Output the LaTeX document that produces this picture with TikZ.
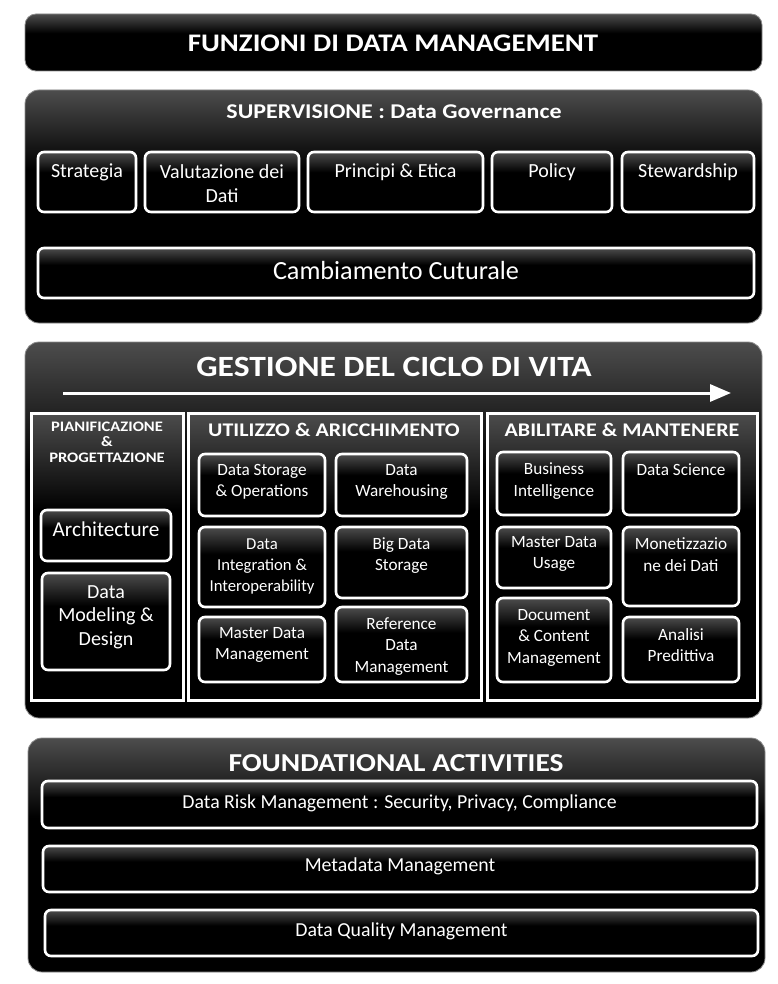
\documentclass[tikz,border=0pt]{standalone}
\usepackage{fontspec}
\setmainfont{Carlito}
\newfontfamily\ttlfont[FakeStretch=1.14]{Carlito}
\usetikzlibrary{arrows.meta}
\pgfdeclareverticalshading{glossy}{100bp}{color(0bp)=(black); color(25bp)=(black); color(58bp)=(black); color(75bp)=(black!70); color(100bp)=(black!70)}
\newcommand\fs[2]{\fontsize{#1}{#2}\selectfont}
% \bx{name}{style}{x1}{y1}{x2}{y2}
\newcommand\bx[6]{\node[#2, minimum width={(#5-#3)*1pt}, minimum height={(#6-#4)*1pt}] (#1) at ({(#3+#5)/2},{(#4+#6)/2}) {};}
\begin{document}
\begin{tikzpicture}[x=1pt,y=-1pt,
  panel/.style={shade, shading=glossy, draw=black!45, line width=0.8pt, rounded corners=14pt, inner sep=0pt, outer sep=0pt},
  topbar/.style={panel, rounded corners=11pt},
  wbox/.style={shade, shading=glossy, draw=white, line width=2.6pt, rounded corners=6pt, inner sep=0pt, outer sep=0pt},
  sqbox/.style={shade, shading=glossy, draw=white, line width=3pt, inner sep=0pt, outer sep=0pt},
  txt/.style={text=white, align=center, inner sep=0pt},
  ttl/.style={txt}
]
\useasboundingbox (0,0) rectangle (777,984);
\fill[white] (0,0) rectangle (777,984);

% Top bar
\bx{top}{topbar}{25}{14}{762}{71}
\node[ttl, font=\ttlfont\bfseries\fs{25.3}{29}] (ttop) at (393,43) {FUNZIONI DI DATA MANAGEMENT};

% Supervisione
\bx{sup}{panel}{25}{90}{762}{323}
\node[ttl, font=\ttlfont\bfseries\fs{21}{24}] (tsup) at (394,112) {SUPERVISIONE : Data Governance};
\bx{b1}{wbox}{38}{152}{136}{212}
\bx{b2}{wbox}{145}{152}{299}{212}
\bx{b3}{wbox}{308}{152}{483}{212}
\bx{b4}{wbox}{492}{152}{612}{212}
\bx{b5}{wbox}{622}{152}{754}{212}
\bx{b6}{wbox}{38}{248}{754}{298}
\node[txt, font=\fs{20}{24}] (t1) at (87,172) {Strategia};
\node[txt, font=\fs{20}{24}] (t2) at (222,184) {Valutazione dei\\Dati};
\node[txt, font=\fs{20}{24}] (t3) at (395.5,172) {Principi \& Etica};
\node[txt, font=\fs{20}{24}] (t4) at (552,172) {Policy};
\node[txt, font=\fs{20}{24}] (t5) at (688,172) {Stewardship};
\node[txt, font=\fs{26.2}{30}] (t6) at (396,270) {Cambiamento Cuturale};

% Gestione
\bx{ges}{panel}{25}{342}{762}{718}
\node[ttl, font=\ttlfont\bfseries\fs{29.4}{33}] (tges) at (394,367) {GESTIONE DEL CICLO DI VITA};
\coordinate (as) at (63,393);
\coordinate (ae) at (731,393);
\draw[white, line width=3pt, -{Triangle[length=21pt,width=17pt]}] (as) -- (ae);

\bx{p1}{sqbox}{31}{413}{183}{700}
\bx{p2}{sqbox}{188}{413}{481}{700}
\bx{p3}{sqbox}{487}{413}{757}{700}
\node[ttl, font=\ttlfont\bfseries\fs{14.5}{15.5}] (tp1) at (107,442) {PIANIFICAZIONE\\\&\\PROGETTAZIONE};
\node[ttl, font=\ttlfont\bfseries\fs{19.3}{22}] (tp2) at (334,430) {UTILIZZO \& ARICCHIMENTO};
\node[ttl, font=\ttlfont\bfseries\fs{19.3}{22}] (tp3) at (622,430) {ABILITARE \& MANTENERE};

\bx{c1}{wbox}{41}{510}{171}{561}
\bx{c2}{wbox}{42}{573}{170}{670}
\node[txt, font=\fs{21.2}{23.5}] (tc1) at (106,529) {Architecture};
\node[txt, font=\fs{20}{23.5}] (tc2) at (106,617) {Data\\Modeling \&\\Design};

\bx{d1}{wbox}{199}{454}{325}{516}
\bx{d2}{wbox}{336}{454}{467}{516}
\bx{d3}{wbox}{199}{527}{325}{607}
\bx{d4}{wbox}{336}{527}{467}{598}
\bx{d5}{wbox}{199}{617}{325}{682}
\bx{d6}{wbox}{336}{607}{467}{682}
\node[txt, font=\fs{17.2}{21.5}] (td1) at (262,482) {Data Storage\\\& Operations};
\node[txt, font=\fs{17.2}{21.5}] (td2) at (401.5,482) {Data\\Warehousing};
\node[txt, font=\fs{16.7}{21}] (td3) at (262,566) {Data\\Integration \&\\Interoperability};
\node[txt, font=\fs{17.2}{21.5}] (td4) at (401.5,555.5) {Big Data\\Storage};
\node[txt, font=\fs{17.2}{21.5}] (td5) at (262,645) {Master Data\\Management};
\node[txt, font=\fs{17.2}{21.5}] (td6) at (401.5,646.5) {Reference\\Data\\Management};

\bx{e1}{wbox}{497}{452}{611}{515}
\bx{e2}{wbox}{623}{452}{739}{515}
\bx{e3}{wbox}{497}{527}{611}{588}
\bx{e4}{wbox}{623}{527}{739}{606}
\bx{e5}{wbox}{497}{598}{611}{682}
\bx{e6}{wbox}{623}{617}{739}{682}
\node[txt, font=\fs{17.2}{21.5}] (te1) at (554,481) {Business\\Intelligence};
\node[txt, font=\fs{17.2}{21.5}] (te2) at (681,470) {Data Science};
\node[txt, font=\fs{17.2}{21.5}] (te3) at (554,554) {Master Data\\Usage};
\node[txt, font=\fs{17.2}{21.5}] (te4) at (681,554.5) {Monetizzazio\\ne dei Dati};
\node[txt, font=\fs{17.2}{21.5}] (te5) at (554,637.5) {Document\\\& Content\\Management};
\node[txt, font=\fs{17.2}{21.5}] (te6) at (681,645) {Analisi\\Predittiva};

% Foundational
\bx{fnd}{panel}{28}{738}{765}{972}
\node[ttl, font=\ttlfont\bfseries\fs{25.8}{29}] (tfnd) at (396,763) {FOUNDATIONAL ACTIVITIES};
\bx{f1}{wbox}{42}{781}{757}{828}
\bx{f2}{wbox}{43}{846}{757}{892}
\bx{f3}{wbox}{45}{910}{758}{956}
\node[txt, font=\fs{19.8}{22}] (tf1) at (399.5,803) {Data Risk Management : Security, Privacy, Compliance};
\node[txt, font=\fs{19.8}{22}] (tf2) at (400,866) {Metadata Management};
\node[txt, font=\fs{19.8}{22}] (tf3) at (401.5,931) {Data Quality Management};
\end{tikzpicture}
\end{document}
